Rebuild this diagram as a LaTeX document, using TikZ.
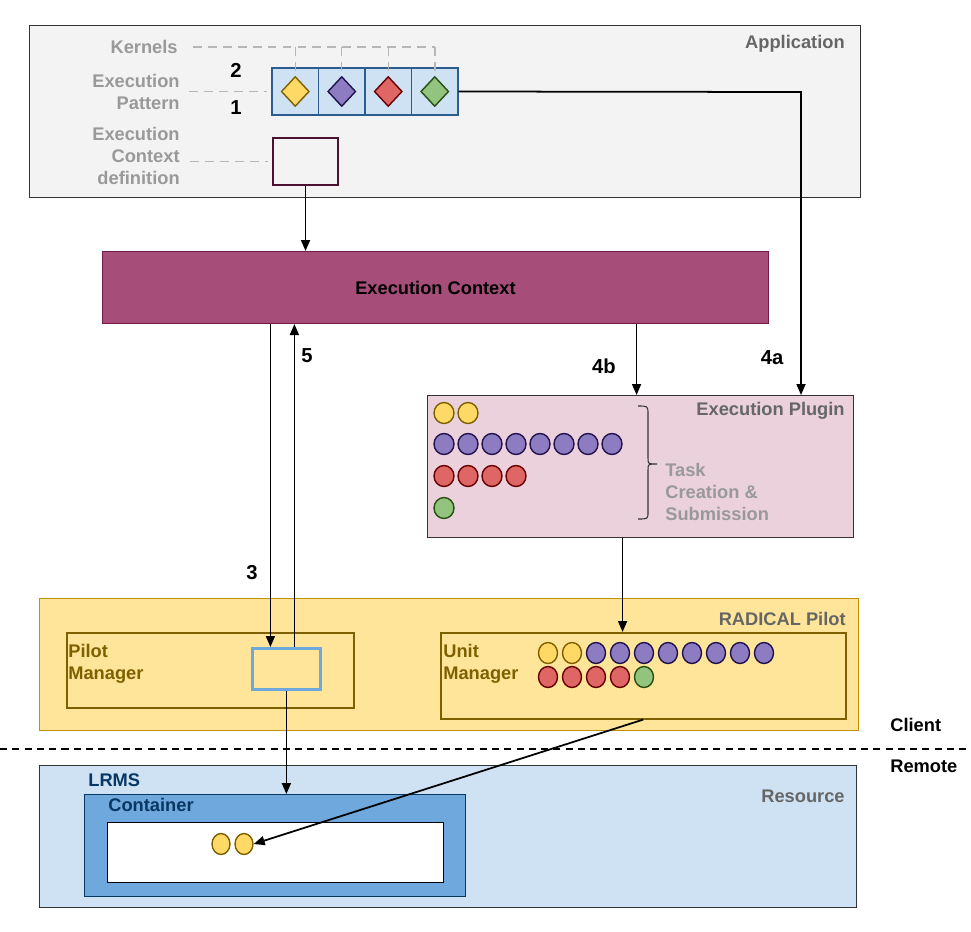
\documentclass[tikz,border=0pt]{standalone}
\usepackage{fontspec}
\setmainfont{Liberation Sans}
\usetikzlibrary{shapes.geometric,arrows.meta}

\definecolor{appFill}{HTML}{F3F3F3}
\definecolor{appLine}{HTML}{333333}
\definecolor{cellFill}{HTML}{CFE2F3}
\definecolor{cellLine}{HTML}{2D5C8F}
\definecolor{defLine}{HTML}{4C1130}
\definecolor{ctxFill}{HTML}{A64D79}
\definecolor{ctxLine}{HTML}{741B47}
\definecolor{plugFill}{HTML}{EAD1DC}
\definecolor{rpFill}{HTML}{FFE599}
\definecolor{rpLine}{HTML}{BF9000}
\definecolor{mgrLine}{HTML}{7F6000}
\definecolor{pboxLine}{HTML}{6FA8DC}
\definecolor{resFill}{HTML}{CFE2F3}
\definecolor{contFill}{HTML}{6FA8DC}
\definecolor{contLine}{HTML}{073763}
\definecolor{labelDark}{HTML}{666666}
\definecolor{labelLight}{HTML}{999999}
\definecolor{guideGray}{HTML}{B7B7B7}
\definecolor{kyFill}{HTML}{FFD966}
\definecolor{kyLine}{HTML}{7F6000}
\definecolor{kpFill}{HTML}{8E7CC3}
\definecolor{kpLine}{HTML}{20124D}
\definecolor{krFill}{HTML}{E06666}
\definecolor{krLine}{HTML}{660000}
\definecolor{kgFill}{HTML}{93C47D}
\definecolor{kgLine}{HTML}{274E13}

\begin{document}
\begin{tikzpicture}
[x=0.02cm,y=-0.02cm,%
  every node/.style={font=\fontsize{10.4}{12.5}\selectfont\bfseries},%
  boxDecorate/.style={shape=rectangle,anchor=north west,inner sep=0pt},%
  labelDecorate/.style={inner sep=0pt,text=#1},%
  cellDecorate/.style={shape=rectangle,inner sep=0pt,minimum width=0.93cm,minimum height=0.94cm,fill=cellFill,draw=cellLine,line width=0.8pt},%
  kernelDecorate/.style={shape=diamond,inner sep=0pt,minimum width=0.56cm,minimum height=0.6cm,line width=0.8pt,fill=#1Fill,draw=#1Line},%
  taskDecorate/.style={shape=ellipse,inner sep=0pt,minimum width=0.4cm,minimum height=0.42cm,line width=0.8pt,fill=#1Fill,draw=#1Line},%
  lineDecorate/.style={-{Triangle[length=2.2mm,width=1.8mm]},line width=1pt},%
  guideDecorate/.style={draw=guideGray,line width=0.85pt,dash pattern=on 5pt off 3.5pt},%
  stepDecorate/.style={inner sep=0pt,font=\fontsize{11.5}{13}\selectfont\bfseries}]
\useasboundingbox (0,0) rectangle (971,931);
%% layers
\node (app) at (29,25) [boxDecorate,fill=appFill,draw=appLine,line width=0.7pt,minimum width=16.62cm,minimum height=3.44cm] {};
\node (ctx) at (102,251) [boxDecorate,fill=ctxFill,draw=ctxLine,line width=0.6pt,minimum width=13.32cm,minimum height=1.44cm] {Execution Context};
\node (plugin) at (427,395) [boxDecorate,fill=plugFill,draw=appLine,line width=0.7pt,minimum width=8.52cm,minimum height=2.84cm] {};
\node (radical) at (39,598) [boxDecorate,fill=rpFill,draw=rpLine,line width=0.7pt,minimum width=16.38cm,minimum height=2.64cm] {};
\node (pilot) at (66,632) [boxDecorate,draw=mgrLine,line width=0.9pt,minimum width=5.74cm,minimum height=1.5cm] {};
\node (pbox) at (251,647) [boxDecorate,fill=rpFill,draw=pboxLine,line width=1.6pt,minimum width=1.36cm,minimum height=0.82cm] {};
\node (unit) at (440,632) [boxDecorate,draw=mgrLine,line width=0.9pt,minimum width=8.1cm,minimum height=1.72cm] {};
\node (resource) at (39,765) [boxDecorate,fill=resFill,draw=appLine,line width=0.7pt,minimum width=16.34cm,minimum height=2.84cm] {};
\node (container) at (84,794) [boxDecorate,fill=contFill,draw=contLine,line width=0.7pt,minimum width=7.62cm,minimum height=2.04cm] {};
\node (slot) at (107,822) [boxDecorate,fill=white,draw=black,line width=0.7pt,minimum width=6.72cm,minimum height=1.2cm] {};
\node (ctxdef) at (272,137) [boxDecorate,draw=defLine,line width=1.2pt,minimum width=1.3cm,minimum height=0.94cm] {};
%% labels
\node (appLabel) at (845,44) [labelDecorate=labelDark,anchor=east] {Application};
\node (plugLabel) at (845,411) [labelDecorate=labelDark,anchor=east] {Execution Plugin};
\node (rpLabel) at (846,619) [labelDecorate=labelDark,anchor=east] {RADICAL Pilot};
\node (resLabel) at (845,796) [labelDecorate=labelDark,anchor=east] {Resource};
\node (kernels) at (178,47) [labelDecorate=labelLight,anchor=east] {Kernels};
\node (pattern) at (180,92) [labelDecorate=labelLight,anchor=east,align=right] {Execution\\Pattern};
\node (definition) at (180,156) [labelDecorate=labelLight,anchor=east,align=right] {Execution\\Context\\definition};
\node (taskLabel) at (665,492) [labelDecorate=labelLight,anchor=west,align=left] {Task\\Creation \&\\Submission};
\node (pilotLabel) at (68,664) [labelDecorate=mgrLine,anchor=west,align=left] {Pilot\\Manager};
\node (unitLabel) at (443,664) [labelDecorate=mgrLine,anchor=west,align=left] {Unit\\Manager};
\node (lrmsLabel) at (88,780) [labelDecorate=contLine,anchor=west] {LRMS};
\node (contLabel) at (108,805) [labelDecorate=contLine,anchor=west] {Container};
\node (client) at (890,725) [labelDecorate=black,anchor=west] {Client};
\node (remote) at (890,766) [labelDecorate=black,anchor=west] {Remote};
\foreach \txt/\x/\y in {2/236/70, 1/236/108, 3/252/573, 5/307/356, 4b/604/366, 4a/772/358}
  \node (step\txt) at (\x,\y) [stepDecorate] {\txt};
%% kernels in the pattern
\foreach \i/\kind in {1/ky,2/kp,3/kr,4/kg}
{
  \node (cell\i) at ({295.25+46.5*(\i-1)},91.5) [cellDecorate] {};
  \node (kern\i) at (cell\i) [kernelDecorate=\kind] {};
}
%% tasks
\foreach \y/\n/\kind in {413/2/ky, 444/8/kp, 476/4/kr, 508/1/kg}
{
  \foreach \i in {1,...,\n}
    \node (plug-\kind-\i) at ({444+24*(\i-1)},\y) [taskDecorate=\kind] {};
}
\foreach \kind [count=\i] in {ky,ky,kp,kp,kp,kp,kp,kp,kp,kp}
  \node (unit-a\i) at ({548+24*(\i-1)},653) [taskDecorate=\kind,minimum width=0.38cm] {};
\foreach \kind [count=\i] in {kr,kr,kr,kr,kg}
  \node (unit-b\i) at ({548+24*(\i-1)},677) [taskDecorate=\kind,minimum width=0.38cm] {};
\node (cy1) at (221,844) [taskDecorate=ky,minimum width=0.36cm] {};
\node (cy2) at (244,844) [taskDecorate=ky,minimum width=0.36cm] {};
%% guides
\draw[guideDecorate] ([xshift=0.3cm]kernels.east) -- (kern4.north |- kernels.east);
\foreach \i in {1,...,4}
  \draw[guideDecorate] (kern\i.north |- kernels.east) -- (kern\i.north);
\draw[guideDecorate] ([xshift=0.18cm]pattern.east |- cell1.west) -- ([xshift=-0.08cm]cell1.west);
\draw[guideDecorate] ([xshift=0.2cm]definition.east |- ctxdef.west) -- ([xshift=-0.08cm]ctxdef.west);
\draw[appLine,line width=0.6pt] (638,406) .. controls (648,406) .. (648,414) -- (648,458)
  .. controls (648,464) .. (657,464) .. controls (648,464) .. (648,470) -- (648,512)
  .. controls (648,519) .. (638,519);
\draw[line width=1.1pt,dash pattern=on 4pt off 3pt] (0,749) -- (971,749);
%% edges
\coordinate (turn) at (801,92);
\coordinate (down3) at ([xshift=-0.32cm]pbox.north);
\coordinate (up5) at ([xshift=0.16cm]pbox.north);
\coordinate (b4) at ([xshift=-0.08cm]plugin.north);
\coordinate (um) at ([xshift=-0.36cm]plugin.south);
\draw[lineDecorate] (cell4.east) -- (turn) -- (turn |- plugin.north);
\draw[lineDecorate] (ctxdef.south) -- (ctxdef.south |- ctx.north);
\draw[lineDecorate] (down3 |- ctx.south) -- (down3);
\draw[lineDecorate] (up5) -- (up5 |- ctx.south);
\draw[lineDecorate] (b4 |- ctx.south) -- (b4);
\draw[lineDecorate] (um) -- (um |- unit.north);
\draw[lineDecorate] (pbox.south) -- (pbox.south |- container.north);
\draw[lineDecorate] (unit.south) -- (cy2.east);
\end{tikzpicture}
\end{document}
